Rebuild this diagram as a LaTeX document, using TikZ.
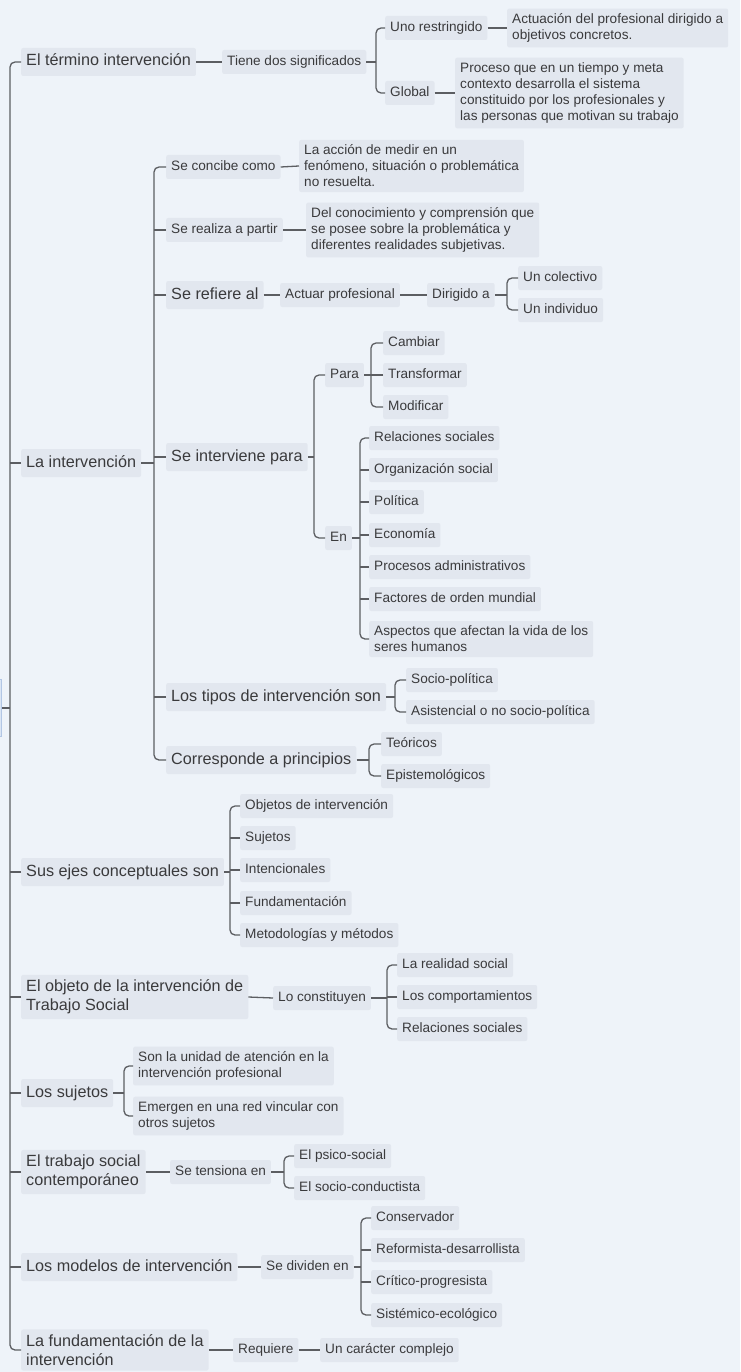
\documentclass[tikz,border=0pt]{standalone}
\usepackage{fontspec}
\setmainfont{Liberation Sans}
\definecolor{bgc}{RGB}{238,243,249}
\definecolor{boxc}{RGB}{226,231,239}
\definecolor{txtc}{RGB}{58,58,60}
\definecolor{linec}{RGB}{92,94,98}
\definecolor{rootf}{RGB}{218,229,244}
\definecolor{rootd}{RGB}{178,198,228}
\tikzset{
  base/.style={fill=boxc, text=txtc, inner xsep=5pt, anchor=west, rounded corners=2pt},
  sm/.style={base, font=\fontsize{13.6}{16}\selectfont, text height=10pt, text depth=3pt, inner ysep=5.5pt},
  lg/.style={base, font=\fontsize{16.2}{19}\selectfont, text height=12pt, text depth=4pt, inner ysep=6pt},
  smm/.style={base, font=\fontsize{13.6}{16}\selectfont, align=left, inner ysep=5pt},
  lgm/.style={base, font=\fontsize{16.2}{19}\selectfont, align=left, inner ysep=5pt},
  ln/.style={draw=linec, line width=1.3pt},
  br/.style={ln, rounded corners=5pt},
  rootbox/.style={fill=rootf, draw=rootd, line width=0.8pt, anchor=east, minimum width=40pt, minimum height=57pt, inner sep=0pt}
}
% parent, first child, last child, stub
\newcommand{\brk}[4]{%
  \draw[ln] (#1.east) -- ([xshift=-#4pt]#1.east -| #2.west);
  \draw[br] (#2.west) -- ++(-#4,0) |- (#3.west);
}
\newcommand{\tick}[2]{\draw[ln] (#1.west) -- ++(-#2,0);}
\begin{document}
\begin{tikzpicture}[x=1pt,y=-1pt]
\useasboundingbox (0,0) rectangle (740,1372);
\fill[bgc] (0,0) rectangle (740,1372);
\clip (0,0) rectangle (740,1372);

% root (cut off at left edge)
\node[rootbox] (root) at (2,708) {};

% level 1
\node[lg]  (t1) at (21,62)   {El término intervención};
\node[lg]  (t2) at (21,463)  {La intervención};
\node[lg]  (t3) at (21,872)  {Sus ejes conceptuales son};
\node[lgm] (t4) at (21,997)  {El objeto de la intervención de\\Trabajo Social};
\node[lg]  (t5) at (21,1093) {Los sujetos};
\node[lgm] (t6) at (21,1172) {El trabajo social\\contemporáneo};
\node[lg]  (t7) at (21,1267) {Los modelos de intervención};
\node[lgm] (t8) at (21,1350) {La fundamentación de la\\intervención};

\brk{root}{t1}{t8}{11}
\foreach \m in {t2,t3,t4,t5,t6,t7} {\tick{\m}{11}}

% --- El término intervención
\node[sm] (a1) at (222,62) {Tiene dos significados};
\node[sm] (a1a) at (385,28) {Uno restringido};
\node[smm] (a1a1) at (507,28) {Actuación del profesional dirigido a\\objetivos concretos.};
\node[sm] (a1b) at (385,93) {Global};
\node[smm] (a1b1) at (455,93) {Proceso que en un tiempo y meta\\contexto desarrolla el sistema\\constituido por los profesionales y\\las personas que motivan su trabajo};
\draw[ln] (t1.east) -- (a1.west);
\brk{a1}{a1a}{a1b}{9}
\draw[ln] (a1a.east) -- (a1a1.west);
\draw[ln] (a1b.east) -- (a1b1.west);

% --- La intervención
\node[sm] (b1) at (166,167) {Se concibe como};
\node[smm] (b1a) at (299,166) {La acción de medir en un\\fenómeno, situación o problemática\\no resuelta.};
\node[sm] (b2) at (166,230) {Se realiza a partir};
\node[smm] (b2a) at (306,230) {Del conocimiento y comprensión que\\se posee sobre la problemática y\\diferentes realidades subjetivas.};
\node[lg] (b3) at (166,295) {Se refiere al};
\node[sm] (b3a) at (280,295) {Actuar profesional};
\node[sm] (b3b) at (427,295) {Dirigido a};
\node[sm] (b3c) at (518,278) {Un colectivo};
\node[sm] (b3d) at (518,310) {Un individuo};
\node[lg] (b4) at (166,457) {Se interviene para};
\node[sm] (b4a) at (325,375) {Para};
\node[sm] (c1) at (383,343) {Cambiar};
\node[sm] (c2) at (383,375) {Transformar};
\node[sm] (c3) at (383,407) {Modificar};
\node[sm] (b4b) at (325,538) {En};
\node[sm] (e1) at (369,438) {Relaciones sociales};
\node[sm] (e2) at (369,470) {Organización social};
\node[sm] (e3) at (369,502) {Política};
\node[sm] (e4) at (369,535) {Economía};
\node[sm] (e5) at (369,567) {Procesos administrativos};
\node[sm] (e6) at (369,599) {Factores de orden mundial};
\node[smm] (e7) at (369,639) {Aspectos que afectan la vida de los\\seres humanos};
\node[lg] (b5) at (166,697) {Los tipos de intervención son};
\node[sm] (f1) at (406,680) {Socio-política};
\node[sm] (f2) at (406,712) {Asistencial o no socio-política};
\node[lg] (b6) at (166,760) {Corresponde a principios};
\node[sm] (g1) at (381,744) {Teóricos};
\node[sm] (g2) at (381,776) {Epistemológicos};

\brk{t2}{b1}{b6}{12}
\foreach \m in {b2,b3,b4,b5} {\tick{\m}{12}}
\draw[ln] (b1.east) -- (b1a.west);
\draw[ln] (b2.east) -- (b2a.west);
\draw[ln] (b3.east) -- (b3a.west);
\draw[ln] (b3a.east) -- (b3b.west);
\brk{b3b}{b3c}{b3d}{11}
\brk{b4}{b4a}{b4b}{11}
\brk{b4a}{c1}{c3}{12}
\tick{c2}{12}
\brk{b4b}{e1}{e7}{9}
\foreach \m in {e2,e3,e4,e5,e6} {\tick{\m}{9}}
\brk{b5}{f1}{f2}{11}
\brk{b6}{g1}{g2}{12}

% --- Sus ejes conceptuales son
\node[sm] (h1) at (240,806) {Objetos de intervención};
\node[sm] (h2) at (240,838) {Sujetos};
\node[sm] (h3) at (240,870) {Intencionales};
\node[sm] (h4) at (240,903) {Fundamentación};
\node[sm] (h5) at (240,935) {Metodologías y métodos};
\brk{t3}{h1}{h5}{10}
\foreach \m in {h2,h3,h4} {\tick{\m}{10}}

% --- El objeto de la intervención
\node[sm] (i1) at (273,998) {Lo constituyen};
\node[sm] (i2) at (397,965) {La realidad social};
\node[sm] (i3) at (397,997) {Los comportamientos};
\node[sm] (i4) at (397,1029) {Relaciones sociales};
\draw[ln] (t4.east) -- (i1.west);
\brk{i1}{i2}{i4}{10}
\tick{i3}{10}

% --- Los sujetos
\node[smm] (s1) at (133,1066) {Son la unidad de atención en la\\intervención profesional};
\node[smm] (s2) at (133,1116) {Emergen en una red vincular con\\otros sujetos};
\brk{t5}{s1}{s2}{9}

% --- El trabajo social contemporáneo
\node[sm] (k1) at (170,1172) {Se tensiona en};
\node[sm] (k2) at (294,1156) {El psico-social};
\node[sm] (k3) at (294,1188) {El socio-conductista};
\draw[ln] (t6.east) -- (k1.west);
\brk{k1}{k2}{k3}{10}

% --- Los modelos de intervención
\node[sm] (m1) at (261,1267) {Se dividen en};
\node[sm] (m2) at (371,1218) {Conservador};
\node[sm] (m3) at (371,1250) {Reformista-desarrollista};
\node[sm] (m4) at (371,1282) {Crítico-progresista};
\node[sm] (m5) at (371,1315) {Sistémico-ecológico};
\draw[ln] (t7.east) -- (m1.west);
\brk{m1}{m2}{m5}{10}
\foreach \m in {m3,m4} {\tick{\m}{10}}

% --- La fundamentación
\node[sm] (r1) at (233,1350) {Requiere};
\node[sm] (r2) at (320,1350) {Un carácter complejo};
\draw[ln] (t8.east) -- (r1.west);
\draw[ln] (r1.east) -- (r2.west);
\end{tikzpicture}
\end{document}
